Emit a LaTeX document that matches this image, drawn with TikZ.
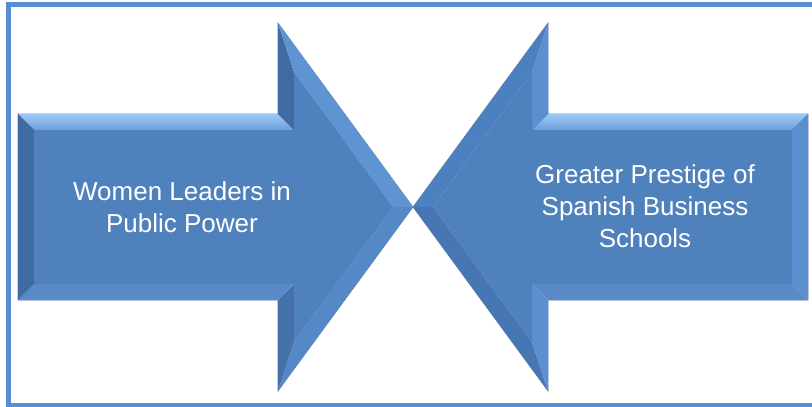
\documentclass[tikz,border=0pt]{standalone}
\usepackage{fontspec}
\setmainfont{Liberation Sans}
\definecolor{bordercol}{RGB}{88,141,212}
\definecolor{face}{HTML}{4F81BD}
\definecolor{topA}{HTML}{9CCBF8}
\definecolor{topB}{HTML}{6C9DD9}
\definecolor{darkL}{HTML}{3F6AA2}
\definecolor{darkL2}{HTML}{4571AA}
\definecolor{upR}{HTML}{5E94D4}
\definecolor{dnR}{HTML}{5588C7}
\definecolor{botF}{HTML}{5989C6}
\definecolor{liteR}{HTML}{5B8FD0}
\definecolor{upL}{HTML}{4C80C0}
\definecolor{dnL}{HTML}{4677B4}
\definecolor{edgecol}{RGB}{105,125,155}
\tikzset{
  lbl/.style={text=white, align=center, inner sep=0pt, font=\fontsize{26}{32}\selectfont},
  edgeline/.style={draw=edgecol, line width=0.6pt, line join=miter},
  frame/.style={draw=bordercol, line width=5pt}
}
\newcommand{\bevarrow}[6]{%
  \coordinate (Ao) at (18,114);  \coordinate (Bo) at (278,114); \coordinate (Co) at (278,23);
  \coordinate (Do) at (413,207); \coordinate (Eo) at (278,391); \coordinate (Fo) at (278,300);
  \coordinate (Go) at (18,300);
  \coordinate (Ai) at (34,130);  \coordinate (Bi) at (294,130); \coordinate (Ci) at (294,72);
  \coordinate (Di) at (393,207); \coordinate (Ei) at (294,342); \coordinate (Fi) at (294,284);
  \coordinate (Gi) at (34,284);
  \draw[edgeline] (Ao)--(Bo)--(Co)--(Do)--(Eo)--(Fo)--(Go)--cycle;
  \fill[top color=topA, bottom color=topB] (Ao)--(Bo)--(Bi)--(Ai)--cycle;
  \fill[#1] (Bo)--(Co)--(Ci)--(Bi)--cycle;
  \fill[#2] (Co)--(Do)--(Di)--(Ci)--cycle;
  \fill[#3] (Do)--(Eo)--(Ei)--(Di)--cycle;
  \fill[#4] (Eo)--(Fo)--(Fi)--(Ei)--cycle;
  \fill[#5] (Fo)--(Go)--(Gi)--(Fi)--cycle;
  \fill[#6] (Go)--(Ao)--(Ai)--(Gi)--cycle;
  \fill[face] (Ai)--(Bi)--(Ci)--(Di)--(Ei)--(Fi)--(Gi)--cycle;
}
\begin{document}
\begin{tikzpicture}[x=1pt,y=-1pt]
  \useasboundingbox (0,0) rectangle (812,407);
  \begin{scope}
    \clip (0,0) rectangle (812,407);
    \draw[frame] (8,4.5) rectangle (818,405.5);
  \end{scope}
  % left arrow
  \begin{scope}
    \bevarrow{darkL}{upR}{dnR}{darkL2}{botF}{darkL}
  \end{scope}
  % right arrow (mirrored)
  \begin{scope}[shift={(826,0)}, xscale=-1]
    \bevarrow{liteR}{upL}{dnL}{liteR}{botF}{liteR}
  \end{scope}
  \node[lbl] (lefttext) at (182,207) {Women Leaders in\\Public Power};
  \node[lbl] (righttext) at (645,206) {Greater Prestige of\\Spanish Business\\Schools};
\end{tikzpicture}
\end{document}
